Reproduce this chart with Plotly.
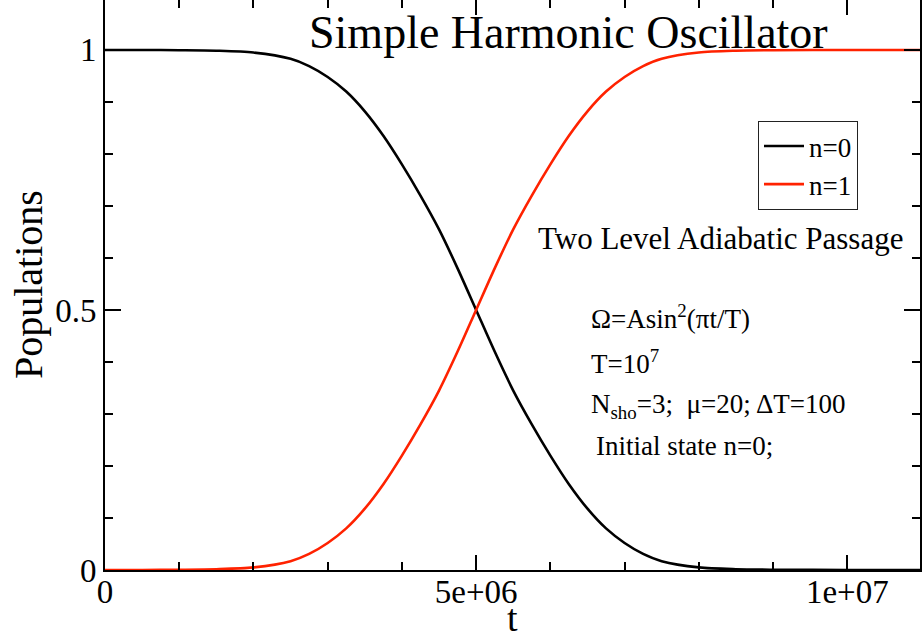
import plotly.graph_objects as go

# ---- data ----
t_vals = [0, 0.5e6, 1e6, 1.5e6, 2e6, 2.5e6, 2.75e6, 3e6, 3.25e6, 3.5e6, 3.75e6,
          4e6, 4.25e6, 4.5e6, 4.75e6, 5e6, 5.25e6, 5.5e6, 5.75e6, 6e6, 6.25e6,
          6.5e6, 6.75e6, 7e6, 7.25e6, 7.5e6, 8e6, 8.5e6, 9e6, 1e7, 1.1e7]
pop_n0 = [1, 1, 0.9995, 0.9985, 0.995, 0.983, 0.969, 0.948, 0.92, 0.882, 0.835,
          0.78, 0.72, 0.655, 0.58, 0.5, 0.42, 0.345, 0.28, 0.22, 0.165,
          0.118, 0.08, 0.052, 0.031, 0.017, 0.005, 0.0015, 0.0005, 0, 0]
pop_n1 = [0, 0, 0.0005, 0.0015, 0.005, 0.017, 0.031, 0.052, 0.08, 0.118, 0.165,
          0.22, 0.28, 0.345, 0.42, 0.5, 0.58, 0.655, 0.72, 0.78, 0.835,
          0.882, 0.92, 0.948, 0.969, 0.983, 0.995, 0.9985, 0.9995, 1, 1]

x_tickvals = [0, 5e6, 1e7]
x_ticktext = ["0", "5e+06", "1e+07"]
y_tickvals = [0, 0.5, 1]
y_ticktext = ["0", "0.5", "1"]

series_names = ["n=0", "n=1"]
series_colors = ["#000000", "#ff2200"]

title_text = "Simple Harmonic Oscillator"
x_title = "t"
y_title = "Populations"
note_lines = [
    "Two Level Adiabatic Passage",
    "\u03a9=Asin<sup>2</sup>(\u03c0t/T)",
    "T=10<sup>7</sup>",
    "N<sub>sho</sub>=3;  \u03bc=20; \u0394T=100",
    "Initial state n=0;",
]

FONT = "Liberation Serif"
XR = [0, 1.098e7]
YR = [0, 1.096]

fig = go.Figure()
fig.add_trace(go.Scatter(x=t_vals, y=pop_n0, mode="lines", name=series_names[0],
                         line=dict(color=series_colors[0], width=2.6, shape="spline", smoothing=0.8),
                         xaxis="x", yaxis="y"))
fig.add_trace(go.Scatter(x=t_vals, y=pop_n1, mode="lines", name=series_names[1],
                         line=dict(color=series_colors[1], width=2.6, shape="spline", smoothing=0.8),
                         xaxis="x2", yaxis="y"))

fig.update_layout(
    width=922, height=641,
    margin=dict(l=105, r=2, t=0, b=71, autoexpand=False),
    paper_bgcolor="white", plot_bgcolor="white",
    font=dict(family=FONT, color="black"),
    showlegend=True,
    legend=dict(x=(758 - 105) / 815, y=(570 - 121) / 570, xanchor="left", yanchor="top",
                bgcolor="white", bordercolor="#222", borderwidth=1,
                font=dict(size=27, family=FONT, color="black"), itemwidth=40,
                tracegroupgap=0),
    xaxis=dict(range=XR, showgrid=False, zeroline=False, showline=True,
               linecolor="black", linewidth=2, mirror=False, automargin=False,
               ticks="inside", ticklen=15, tickwidth=2, tickcolor="black",
               tickvals=x_tickvals, ticktext=x_ticktext, ticklabelstandoff=-9,
               tickfont=dict(size=33, family=FONT, color="black"),
               minor=dict(dtick=1e6, tick0=0, ticks="inside", ticklen=8,
                          tickwidth=2, tickcolor="black", showgrid=False)),
    xaxis2=dict(range=XR, overlaying="x", side="top", showgrid=False, zeroline=False,
                showline=False, showticklabels=False, automargin=False,
                ticks="inside", ticklen=15, tickwidth=2, tickcolor="black",
                tickvals=x_tickvals,
                minor=dict(dtick=1e6, tick0=0, ticks="inside", ticklen=8,
                           tickwidth=2, tickcolor="black", showgrid=False)),
    yaxis=dict(range=YR, showgrid=False, zeroline=False, showline=True,
               linecolor="black", linewidth=2, mirror="ticks", automargin=False,
               ticks="inside", ticklen=16, tickwidth=2, tickcolor="black",
               tickvals=y_tickvals, ticktext=y_ticktext,
               tickfont=dict(size=33, family=FONT, color="black"),
               minor=dict(dtick=0.1, tick0=0, ticks="inside", ticklen=8,
                          tickwidth=2, tickcolor="black", showgrid=False)),
)

def px_x(p):
    return (p - 105) / 815

def px_y(p):
    return (570 - p) / 570

def note(text, x, y, size, xanchor="left", angle=0):
    fig.add_annotation(text=text, xref="paper", yref="paper", x=px_x(x), y=px_y(y),
                       xanchor=xanchor, yanchor="middle", showarrow=False,
                       borderpad=0, textangle=angle,
                       font=dict(size=size, family=FONT, color="black"))

note(title_text, 568, 33, 46, "center")
note(x_title, 512, 618, 38, "center")
note(y_title, 28, 285, 40, "center", -90)
note(note_lines[0], 720, 239, 31, "center")
note_pos = [(590, 317), (590, 362), (590, 406), (595, 446)]
for txt, (nx, ny) in zip(note_lines[1:], note_pos):
    note(txt, nx, ny, 27)

fig.write_html("out.html", config={"displayModeBar": False},
               post_script="document.body.style.margin='0';document.body.style.overflow='hidden';")
